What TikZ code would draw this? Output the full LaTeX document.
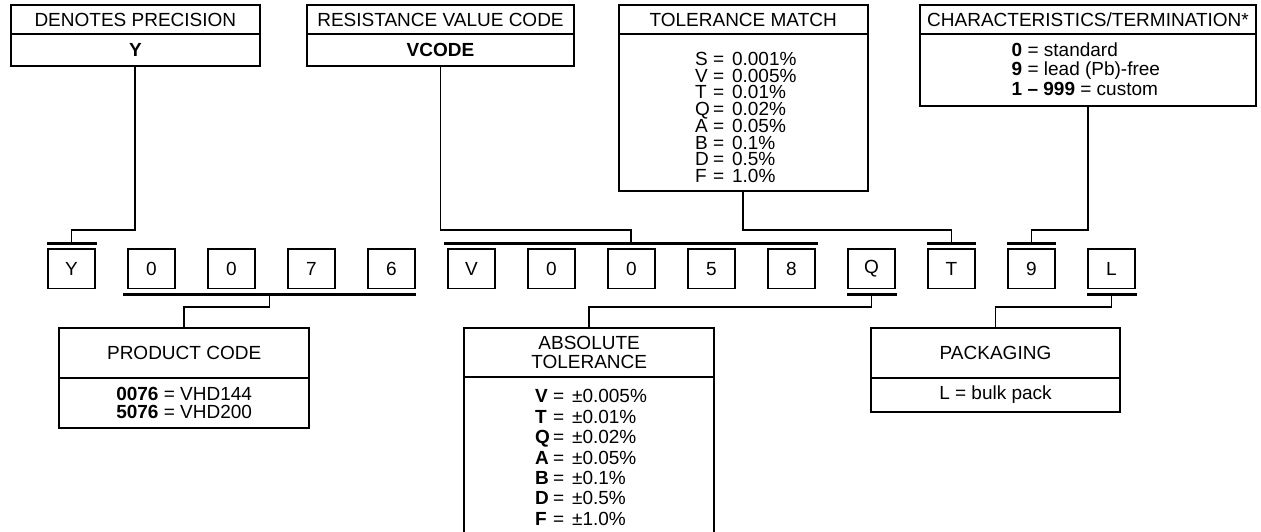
\documentclass[tikz,border=0pt]{standalone}
\usepackage{fontspec}
\setmainfont{Liberation Sans}
\usetikzlibrary{positioning}
\newcommand{\tolrow}[2]{\makebox[18pt][l]{#1}=\hspace{7.8pt}#2}
\begin{document}
\begin{tikzpicture}[x=1pt,y=-1pt,
  box/.style={draw,line width=1.8pt,inner sep=0pt,outer sep=0pt,anchor=north west,font=\fontsize{19}{19}\selectfont},
  digit/.style={draw,line width=1.8pt,inner sep=0pt,outer sep=0pt,minimum width=47.5pt,minimum height=39.5pt,font=\fontsize{19}{19}\selectfont},
  bar/.style={fill=black,inner sep=0pt,outer sep=0pt,minimum height=3.2pt},
  list/.style={inner sep=0pt,anchor=north west,align=left},
  link/.style={line width=1.8pt}]
\useasboundingbox (0,0) rectangle (1261,532);
% Set top
\node (hDen)[box,minimum width=249.3pt,minimum height=29.6pt] at (10.7,4.7) {DENOTES PRECISION};
\node (bDen)[box,minimum width=249.3pt,minimum height=31.7pt] at (10.7,34.3) {\textbf{Y}};
\node (hRes)[box,minimum width=267pt,minimum height=29.6pt] at (307,4.7) {RESISTANCE VALUE CODE};
\node (bRes)[box,minimum width=267pt,minimum height=31.7pt] at (307,34.3) {\textbf{VCODE}};
\node (hTol)[box,minimum width=249pt,minimum height=29.6pt] at (618.7,4.7) {TOLERANCE MATCH};
\node (bTol)[box,minimum width=249pt,minimum height=156.4pt] at (618.7,34.3) {};
\node (tTol)[list,font=\fontsize{19}{16.5}\selectfont] at (695,52.1) {\tolrow{S}{0.001\%}\\\tolrow{V}{0.005\%}\\\tolrow{T}{0.01\%}\\\tolrow{Q}{0.02\%}\\\tolrow{A}{0.05\%}\\\tolrow{B}{0.1\%}\\\tolrow{D}{0.5\%}\\\tolrow{F}{1.0\%}};
\node (hChr)[box,minimum width=336pt,minimum height=29.6pt] at (920,4.7) {CHARACTERISTICS/TERMINATION*};
\node (bChr)[box,minimum width=336pt,minimum height=71.7pt] at (920,34.3) {};
\node (tChr)[list,font=\fontsize{19}{19.2}\selectfont] at (1011.5,42.8) {\textbf{0} = standard\\\textbf{9} = lead (Pb)-free\\\textbf{1 – 999} = custom};
% Set digits
\draw (71.5,268.7) node(d1)[digit]{Y} +(80,0) node(d2)[digit]{0} +(160,0) node(d3)[digit]{0} +(240,0) node(d4)[digit]{7} +(320,0) node(d5)[digit]{6} +(400,0) node(d6)[digit]{V} +(480,0) node(d7)[digit]{0};
\draw (631.5,268.7) node(d8)[digit]{0} +(80,0) node(d9)[digit]{5} +(160,0) node(d10)[digit]{8} +(240,0) node(d11)[digit]{Q} +(320,0) node(d12)[digit]{T} +(400,0) node(d13)[digit]{9} +(480,0) node(d14)[digit]{L};
% Bars
\node (barY)[bar,minimum width=50pt,above=4.1pt of d1] {};
\node (barRes)[bar,minimum width=374pt] at (631,243.3) {};
\node (barT)[bar,minimum width=49pt,above=4.1pt of d12] {};
\node (bar9)[bar,minimum width=49pt,above=4.1pt of d13] {};
\node (barPC)[bar,minimum width=293pt] at (269.5,294.3) {};
\node (barQ)[bar,minimum width=50pt,below=4.3pt of d11] {};
\node (barL)[bar,minimum width=50pt,below=4.3pt of d14] {};
% Set bottom
\node (hPC)[box,minimum width=250.3pt,minimum height=49.7pt] at (59,328) {PRODUCT CODE};
\node (bPC)[box,minimum width=250.3pt,minimum height=50.3pt,align=center,font=\fontsize{19}{17.7}\selectfont] at (59,377.7) {\textbf{0076} = VHD144\\\textbf{5076} = VHD200};
\node (hAbs)[box,minimum width=249.7pt,minimum height=49pt,align=center,font=\fontsize{19}{19.7}\selectfont] at (464.3,328) {ABSOLUTE\\TOLERANCE};
\node (bAbs)[box,minimum width=249.7pt,minimum height=165pt] at (464.3,377.3) {};
\node (tAbs)[list,font=\fontsize{19}{20.4}\selectfont] at (535,389.5) {\tolrow{\textbf{V}}{±0.005\%}\\\tolrow{\textbf{T}}{±0.01\%}\\\tolrow{\textbf{Q}}{±0.02\%}\\\tolrow{\textbf{A}}{±0.05\%}\\\tolrow{\textbf{B}}{±0.1\%}\\\tolrow{\textbf{D}}{±0.5\%}\\\tolrow{\textbf{F}}{±1.0\%}};
\node (hPak)[box,minimum width=249pt,minimum height=49.7pt] at (871,328) {PACKAGING};
\node (bPak)[box,minimum width=249pt,minimum height=34.3pt] at (871,377.7) {L = bulk pack};
% Lines top
\coordinate (up) at (0,230);
\coordinate (dn) at (0,306.7);
\draw[link] (bDen.south) -- (bDen.south |- up) -| (barY.center);
\draw[link] (bRes.south) -- (bRes.south |- up) -| (barRes.center);
\draw[link] (bTol.south) -- (bTol.south |- up) -| (barT.center);
\draw[link] (bChr.south) -- (bChr.south |- up) -| (bar9.center);
% Lines bottom
\draw[link] (barPC.center) -- (barPC.center |- dn) -| (hPC.north);
\draw[link] (barQ.center) -- (barQ.center |- dn) -| (hAbs.north);
\draw[link] (barL.center) -- (barL.center |- dn) -| (hPak.north);
\end{tikzpicture}
\end{document}
